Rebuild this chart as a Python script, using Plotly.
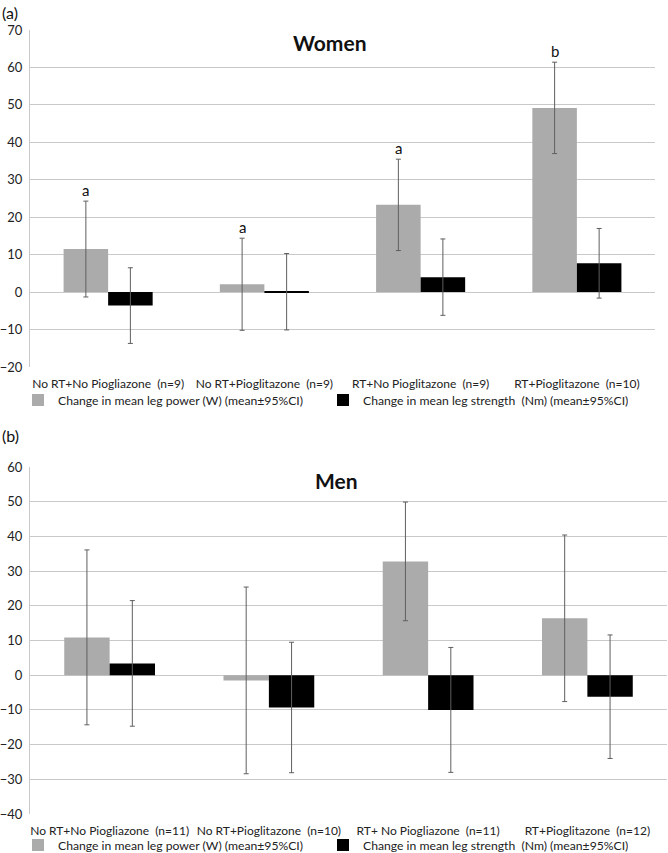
import plotly.graph_objects as go

NB = "\u00a0"

# ---------------- data: panel (a) Women ----------------
cats_w = [f"No RT+No Piogliazone{NB}{NB}(n=9)", f"No RT+Pioglitazone{NB}{NB}(n=9)",
          f"RT+No Pioglitazone{NB}{NB}(n=9)", f"RT+Pioglitazone{NB}{NB}(n=10)"]
power_w = [11.5, 2.1, 23.3, 49.2]
power_w_ci = [12.8, 12.3, 12.2, 12.2]
strength_w = [-3.6, 0.1, 4.0, 7.7]
strength_w_ci = [10.1, 10.2, 10.2, 9.3]
letters_w = ["a", "a", "a", "b"]

# ---------------- data: panel (b) Men ----------------
cats_m = [f"No RT+No Piogliazone{NB}{NB}(n=11)", f"No RT+Pioglitazone{NB}{NB}(n=10)",
          f"RT+ No Piogliazone{NB}{NB}(n=11)", f"RT+Pioglitazone{NB}{NB}(n=12)"]
power_m = [10.9, -1.5, 32.8, 16.4]
power_m_ci = [25.2, 26.9, 17.1, 24.0]
strength_m = [3.4, -9.3, -10.0, -6.2]
strength_m_ci = [18.1, 18.8, 18.0, 17.8]

name_power = "Change in mean leg power (W) (mean±95%CI)"
name_strength = f"Change in mean leg strength{NB}{NB}(Nm) (mean±95%CI)"

GRAY = "#ABABAB"
BLACK = "#000000"
ERR = "#5f5f5f"
GRID = "#C9C9C9"
FONT = "Lato"
BARGAP = 0.43

W, H = 668, 853

def px(x):
    return x / W

def py(y):
    return (H - y) / H

YR_A = [-20, 70]
YR_B = [-40, 60]
DOM_A = [py(367), py(30)]
DOM_B = [py(814), py(467)]

fig = go.Figure()

def add_panel(cats, p, pci, s, sci, xa, ya, legend):
    fig.add_trace(go.Bar(x=cats, y=p, name=name_power, marker=dict(color=GRAY, line=dict(width=0)),
                         error_y=dict(type="data", array=pci, visible=True, color=ERR, thickness=1, width=2.5),
                         xaxis=xa, yaxis=ya, legend=legend))
    fig.add_trace(go.Bar(x=cats, y=s, name=name_strength, marker=dict(color=BLACK, line=dict(width=0)),
                         error_y=dict(type="data", array=sci, visible=True, color=ERR, thickness=1, width=2.5),
                         xaxis=xa, yaxis=ya, legend=legend))

add_panel(cats_w, power_w, power_w_ci, strength_w, strength_w_ci, "x", "y", "legend")
add_panel(cats_m, power_m, power_m_ci, strength_m, strength_m_ci, "x2", "y2", "legend2")

# significance letters above the power error bars (panel a)
for i, (v, ci, lt) in enumerate(zip(power_w, power_w_ci, letters_w)):
    fig.add_annotation(x=i - (1 - BARGAP) / 4, y=v + ci, xref="x", yref="y", text=lt,
                       showarrow=False, xanchor="center", yanchor="bottom", yshift=0,
                       font=dict(family=FONT, size=15, color="#111"))

tickfont = dict(family=FONT, size=12, color="#222")
xcommon = dict(showgrid=False, zeroline=False, showline=False, ticks="", tickfont=tickfont,
               tickangle=0, automargin=False, ticklabelstandoff=8)
ycommon = dict(showgrid=True, gridcolor=GRID, gridwidth=1, zeroline=True, zerolinecolor=GRID,
               zerolinewidth=1, showline=True, linecolor=GRID, linewidth=1, ticks="",
               dtick=10, tickfont=dict(family=FONT, size=13, color="#222"),
               ticklabelstandoff=4, automargin=False)

legcommon = dict(orientation="h", xanchor="left", yanchor="middle",
                 font=dict(family=FONT, size=12.2, color="#222"), itemwidth=30,
                 entrywidth=260, entrywidthmode="pixels", bgcolor="rgba(0,0,0,0)",
                 tracegroupgap=0)

def zero_pos(dom, yr):
    # paper position of y=0 for an axis with given domain and range
    return dom[0] + (0 - yr[0]) / (yr[1] - yr[0]) * (dom[1] - dom[0])

def boundary_axis(overlay, dom, cats, yr, ydom):
    # category-boundary tick marks drawn on the zero line (Excel style)
    return dict(overlaying=overlay, anchor="free", position=zero_pos(ydom, yr), domain=dom,
                range=[-0.5, len(cats) - 0.5], tickvals=[i + 0.5 for i in range(len(cats))],
                ticks="outside", ticklen=4, tickcolor=GRID, tickwidth=1,
                showticklabels=False, showgrid=False, zeroline=False, showline=False,
                automargin=False)

fig.update_layout(
    width=W, height=H,
    margin=dict(l=0, r=0, t=0, b=0, autoexpand=False),
    paper_bgcolor="white", plot_bgcolor="white",
    barmode="group", bargap=BARGAP, bargroupgap=0,
    font=dict(family=FONT, color="#222"),
    xaxis=dict(domain=[px(30), px(655)], anchor="y", **xcommon),
    yaxis=dict(domain=DOM_A, anchor="x", range=YR_A, **ycommon),
    xaxis2=dict(domain=[px(30), px(667)], anchor="y2", **xcommon),
    yaxis2=dict(domain=DOM_B, anchor="x2", range=YR_B, **ycommon),
    xaxis3=boundary_axis("x", [px(30), px(655)], cats_w, YR_A, DOM_A),
    xaxis4=boundary_axis("x2", [px(30), px(667)], cats_m, YR_B, DOM_B),
    legend=dict(x=px(18), y=py(400), **legcommon),
    legend2=dict(x=px(18), y=py(845), **legcommon),
)

# panel titles and labels
title_font = dict(family=FONT, size=21, color="#111")
label_font = dict(family=FONT, size=16, color="#111")
fig.add_annotation(x=px(330), y=py(43), xref="paper", yref="paper", text="<b>Women</b>",
                   showarrow=False, xanchor="center", yanchor="middle", font=title_font)
fig.add_annotation(x=px(337), y=py(480), xref="paper", yref="paper", text="<b>Men</b>",
                   showarrow=False, xanchor="center", yanchor="middle", font=title_font)
fig.add_annotation(x=0, y=py(12), xref="paper", yref="paper", text="(a)",
                   showarrow=False, xanchor="left", yanchor="middle", font=label_font)
fig.add_annotation(x=0, y=py(435), xref="paper", yref="paper", text="(b)",
                   showarrow=False, xanchor="left", yanchor="middle", font=label_font)

fig.write_html("out.html", config={"displayModeBar": False},
               post_script="document.body.style.margin='0px';")
